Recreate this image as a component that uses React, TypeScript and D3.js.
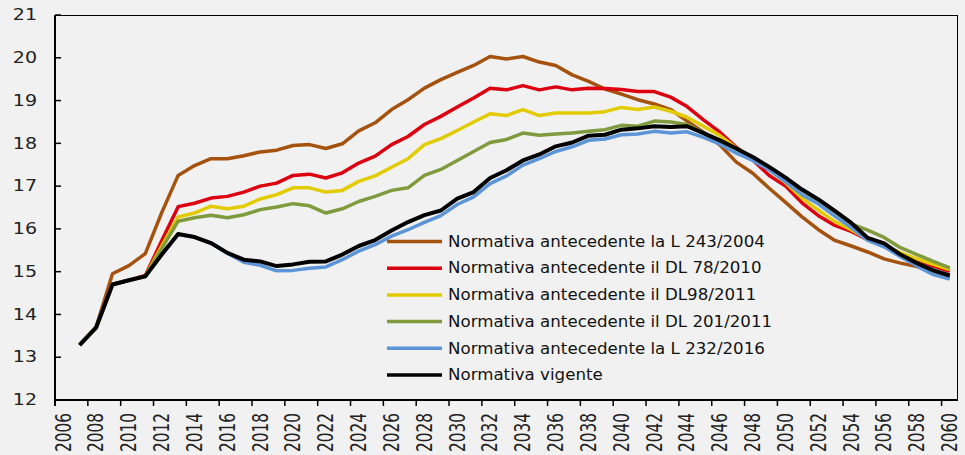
import * as d3 from "d3";

const W = 965;
const H = 455;
const MARGIN = { top: 15, right: 7, bottom: 55, left: 55 };

// categories: every year shown on the axis
const years = d3.range(2006, 2061);
// data starts in 2007
const dataYears = d3.range(2007, 2061);
const yTicks = [12, 13, 14, 15, 16, 17, 18, 19, 20, 21];

const l2432004 = [
  13.3, 13.7, 14.95, 15.14, 15.42, 16.38, 17.25, 17.48, 17.64, 17.64, 17.71, 17.8, 17.84, 17.95, 17.97, 17.88,
  17.99, 18.29, 18.48, 18.79, 19.02, 19.29, 19.49, 19.66, 19.82, 20.03, 19.97, 20.03, 19.9, 19.82, 19.6, 19.45,
  19.27, 19.15, 19.02, 18.92, 18.79, 18.52, 18.26, 17.96, 17.56, 17.3, 16.95, 16.62, 16.28, 15.98, 15.73, 15.6,
  15.46, 15.3, 15.2, 15.12, 15.0, 14.89,
];
const dl782010 = [
  13.3, 13.69, 14.7, 14.8, 14.91, 15.72, 16.52, 16.6, 16.72, 16.76, 16.86, 17.0, 17.07, 17.25, 17.28, 17.19,
  17.31, 17.54, 17.7, 17.97, 18.16, 18.44, 18.63, 18.85, 19.06, 19.29, 19.25, 19.35, 19.25, 19.32, 19.25, 19.29,
  19.28, 19.26, 19.21, 19.21, 19.08, 18.86, 18.55, 18.26, 17.91, 17.61, 17.25, 17.0, 16.61, 16.31, 16.08, 15.94,
  15.75, 15.59, 15.42, 15.28, 15.13, 15.01,
];
const dl982011 = [
  13.3, 13.69, 14.7, 14.8, 14.89, 15.6, 16.28, 16.37, 16.53, 16.47, 16.53, 16.7, 16.8, 16.96, 16.96, 16.86,
  16.9, 17.11, 17.24, 17.44, 17.64, 17.97, 18.11, 18.3, 18.5, 18.69, 18.65, 18.79, 18.65, 18.71, 18.71, 18.71,
  18.74, 18.84, 18.79, 18.85, 18.75, 18.61, 18.4, 18.18, 17.89, 17.66, 17.39, 17.08, 16.72, 16.44, 16.17, 15.98,
  15.76, 15.61, 15.44, 15.3, 15.17, 15.05,
];
const dl2012011 = [
  13.3, 13.69, 14.7, 14.8, 14.89, 15.54, 16.18, 16.26, 16.32, 16.26, 16.33, 16.45, 16.51, 16.59, 16.54, 16.37,
  16.47, 16.64, 16.76, 16.9, 16.96, 17.25, 17.39, 17.6, 17.81, 18.02, 18.09, 18.24, 18.19, 18.22, 18.24, 18.28,
  18.32, 18.42, 18.4, 18.52, 18.5, 18.44, 18.24, 18.07, 17.86, 17.66, 17.42, 17.14, 16.9, 16.66, 16.4, 16.12,
  15.97, 15.8, 15.56, 15.4, 15.24, 15.09,
];
const l2322016 = [
  13.3, 13.69, 14.7, 14.8, 14.89, 15.4, 15.87, 15.81, 15.67, 15.43, 15.22, 15.15, 15.02, 15.03, 15.08, 15.11,
  15.28, 15.48, 15.63, 15.83, 15.98, 16.15, 16.31, 16.57, 16.75, 17.06, 17.24, 17.49, 17.64, 17.81, 17.92, 18.07,
  18.1, 18.2, 18.22, 18.28, 18.24, 18.27, 18.14, 17.98, 17.77, 17.6, 17.38, 17.1, 16.8, 16.58, 16.3, 16.03,
  15.73, 15.58, 15.35, 15.13, 14.93, 14.83,
];
const vigente = [
  13.28, 13.69, 14.7, 14.8, 14.89, 15.4, 15.88, 15.81, 15.67, 15.44, 15.28, 15.24, 15.13, 15.17, 15.23, 15.24,
  15.4, 15.6, 15.74, 15.96, 16.16, 16.32, 16.43, 16.71, 16.86, 17.19, 17.37, 17.6, 17.74, 17.93, 18.02, 18.18,
  18.2, 18.32, 18.35, 18.4, 18.38, 18.4, 18.24, 18.07, 17.88, 17.68, 17.45, 17.2, 16.92, 16.69, 16.42, 16.14,
  15.79, 15.66, 15.4, 15.2, 15.03, 14.91,
];

const seriesNames = [
  "Normativa antecedente la L 243/2004",
  "Normativa antecedente il DL 78/2010",
  "Normativa antecedente il DL98/2011",
  "Normativa antecedente  il DL 201/2011",
  "Normativa antecedente la L 232/2016",
  "Normativa vigente",
];
const seriesValues = [l2432004, dl782010, dl982011, dl2012011, l2322016, vigente];
const seriesColors = ["#a5520f", "#dc0010", "#e2cb00", "#7f9b3d", "#5b95d8", "#000000"];

const FONT = "'DejaVu Sans', Verdana, sans-serif";

export default function App() {
  const innerW = W - MARGIN.left - MARGIN.right;
  const innerH = H - MARGIN.top - MARGIN.bottom;

  const x = d3.scaleBand<number>().domain(years).range([0, innerW]).padding(0);
  const y = d3.scaleLinear().domain([12, 21]).range([innerH, 0]);
  const cx = (yr: number) => (x(yr) ?? 0) + x.bandwidth() / 2;

  const line = d3
    .line<[number, number]>()
    .x((d) => cx(d[0]))
    .y((d) => y(d[1]));

  const tickYears = years.filter((yr) => (yr - 2006) % 2 === 0);

  return (
    <div style={{ position: "fixed", left: 0, top: 0 }}>
      <svg width={W} height={H} style={{ display: "block", background: "#f1f1f1" }} fontFamily={FONT}>
        <g transform={`translate(${MARGIN.left},${MARGIN.top})`}>
          {/* frame top/right */}
          <line x1={0} x2={innerW} y1={0.5} y2={0.5} stroke="#000" strokeWidth={1} />
          <line x1={innerW - 0.5} x2={innerW - 0.5} y1={0} y2={innerH} stroke="#000" strokeWidth={1} />

          {/* lines */}
          {seriesValues.map((vals, i) => (
            <path
              key={seriesNames[i]}
              d={line(dataYears.map((yr, j) => [yr, vals[j]] as [number, number])) ?? ""}
              fill="none"
              stroke={seriesColors[i]}
              strokeWidth={i === 5 ? 4 : 3.5}
              strokeLinejoin="round"
            />
          ))}

          {/* y axis */}
          <line x1={0} x2={0} y1={0} y2={innerH + 6} stroke="#000" strokeWidth={2} />
          {yTicks.map((t) => (
            <g key={t} transform={`translate(0,${y(t)})`}>
              <line x1={0} x2={6} stroke="#000" strokeWidth={1.5} />
              <text
                transform="translate(-18,0) scale(1.27,1)"
                textAnchor="end"
                dominantBaseline="central"
                fontSize={15}
                fill="#222"
              >
                {t}
              </text>
            </g>
          ))}

          {/* x axis */}
          <line x1={0} x2={innerW} y1={innerH} y2={innerH} stroke="#000" strokeWidth={2} />
          {tickYears.map((yr) => (
            <line
              key={yr}
              x1={x(yr) ?? 0}
              x2={x(yr) ?? 0}
              y1={innerH}
              y2={innerH + 6}
              stroke="#000"
              strokeWidth={1.5}
            />
          ))}
          {tickYears.map((yr) => (
            <text
              key={yr}
              transform={`translate(${cx(yr)},${innerH + 13}) scale(1.34,1) rotate(-90)`}
              textAnchor="end"
              dominantBaseline="central"
              fontSize={15.3}
              fill="#222"
            >
              {yr}
            </text>
          ))}

          {/* legend */}
          <g transform="translate(332,226.5)">
            {seriesNames.map((name, i) => (
              <g key={name} transform={`translate(0,${i * 26.7})`}>
                <line x1={0} x2={55} stroke={seriesColors[i]} strokeWidth={3.5} />
                <text
                  transform="translate(61,0) scale(1.075,1)"
                  dominantBaseline="central"
                  fontSize={15.5}
                  fill="#111"
                >
                  {name}
                </text>
              </g>
            ))}
          </g>
        </g>
      </svg>
    </div>
  );
}
